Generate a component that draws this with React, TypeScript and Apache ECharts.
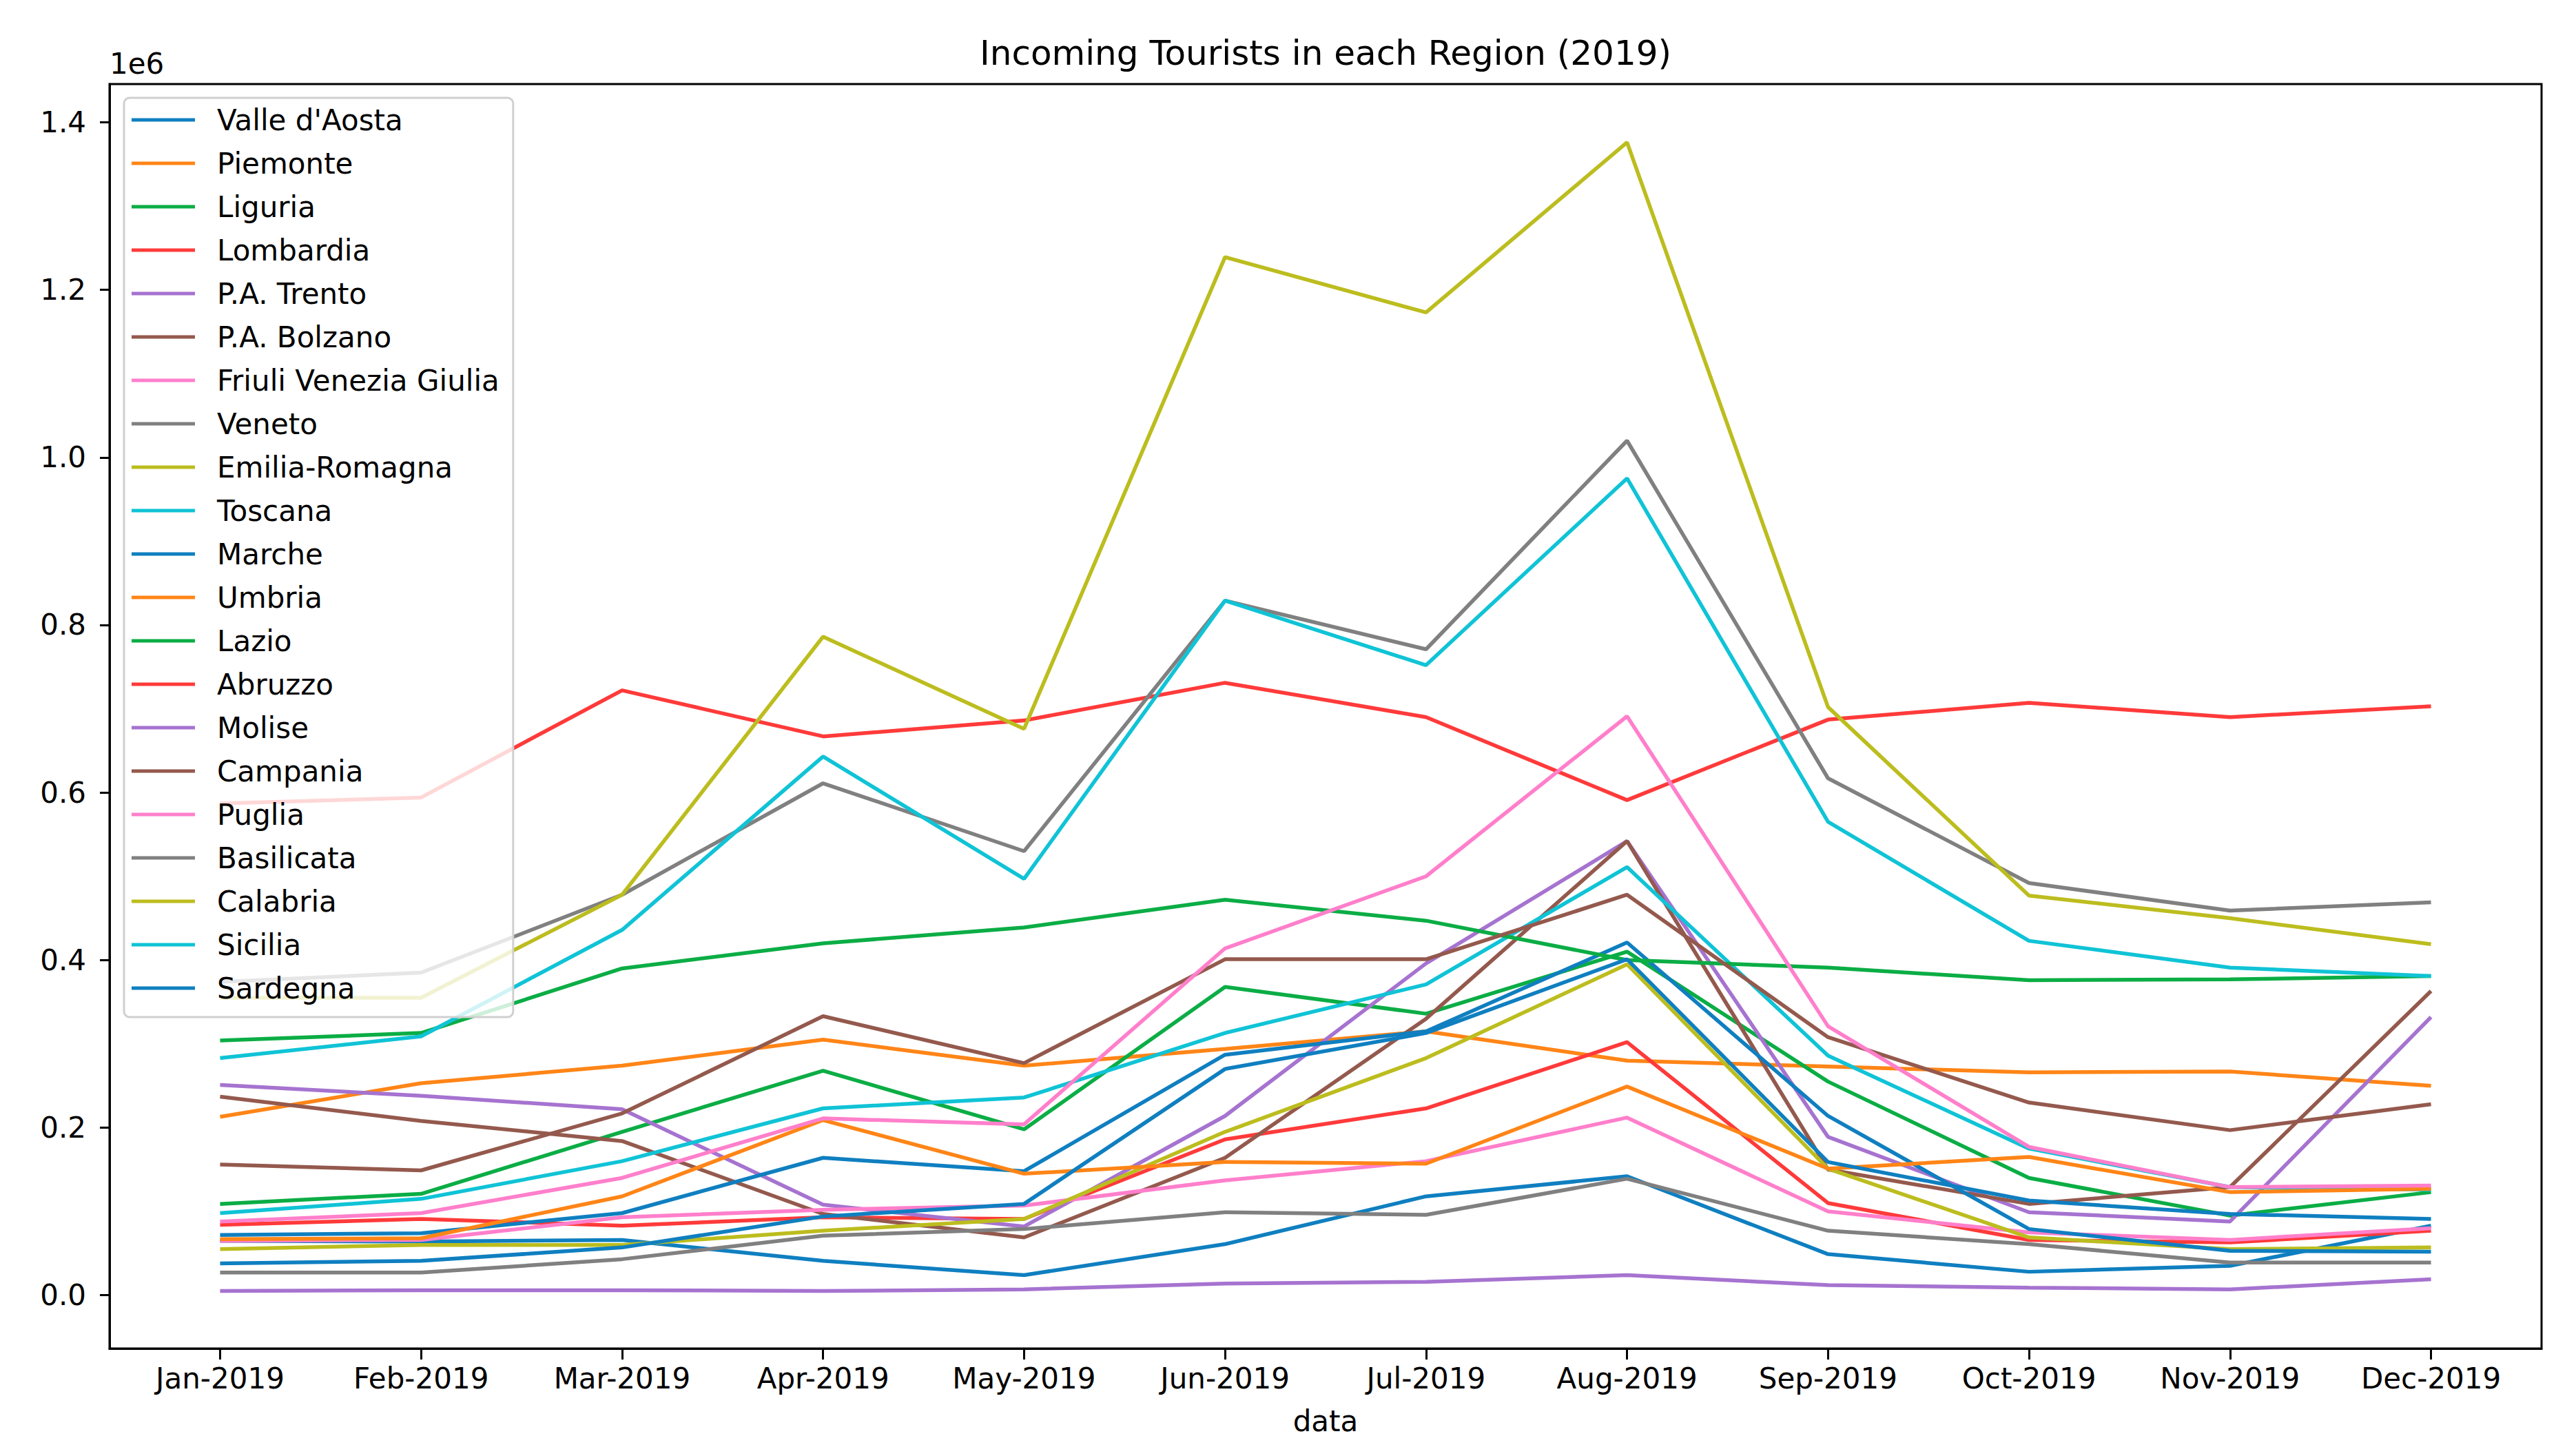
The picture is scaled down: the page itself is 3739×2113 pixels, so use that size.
import React, { useEffect, useRef } from 'react';
import * as echarts from 'echarts';

const months = ['Jan-2019', 'Feb-2019', 'Mar-2019', 'Apr-2019', 'May-2019', 'Jun-2019', 'Jul-2019', 'Aug-2019', 'Sep-2019', 'Oct-2019', 'Nov-2019', 'Dec-2019'];

const regions = ["Valle d'Aosta", 'Piemonte', 'Liguria', 'Lombardia', 'P.A. Trento', 'P.A. Bolzano', 'Friuli Venezia Giulia', 'Veneto', 'Emilia-Romagna', 'Toscana', 'Marche', 'Umbria', 'Lazio', 'Abruzzo', 'Molise', 'Campania', 'Puglia', 'Basilicata', 'Calabria', 'Sicilia', 'Sardegna'];

const valleDAosta = [65000, 64000, 66000, 41000, 24000, 61000, 118000, 142000, 49000, 28000, 35000, 83000];
const piemonte = [213000, 253000, 274000, 305000, 274000, 294000, 315000, 280000, 273000, 266000, 267000, 250000];
const liguria = [109000, 121000, 195000, 268000, 198000, 368000, 336000, 410000, 255000, 140000, 95000, 123000];
const lombardia = [84000, 91000, 83000, 93000, 91000, 186000, 223000, 302000, 110000, 66000, 63000, 77000];
const trento = [251000, 238000, 222000, 108000, 82000, 214000, 396000, 542000, 189000, 99000, 88000, 332000];
const bolzano = [237000, 208000, 184000, 97000, 69000, 164000, 330000, 542000, 150000, 109000, 129000, 363000];
const friuli = [65000, 66000, 93000, 102000, 107000, 137000, 160000, 212000, 100000, 75000, 66000, 80000];
const veneto = [27000, 27000, 43000, 71000, 79000, 99000, 96000, 139000, 77000, 61000, 39000, 39000];
const emiliaRomagna = [55000, 60000, 60000, 77000, 91000, 195000, 283000, 395000, 151000, 69000, 55000, 57000];
const toscana = [98000, 115000, 160000, 223000, 236000, 313000, 371000, 511000, 286000, 175000, 129000, 126000];
const marche = [72000, 74000, 98000, 164000, 148000, 287000, 315000, 421000, 214000, 79000, 53000, 52000];
const umbria = [67000, 68000, 118000, 209000, 145000, 159000, 157000, 249000, 151000, 165000, 123000, 127000];
const lazio = [304000, 313000, 390000, 420000, 439000, 472000, 447000, 400000, 391000, 376000, 377000, 381000];
const abruzzo = [587000, 594000, 722000, 667000, 686000, 731000, 690000, 591000, 687000, 707000, 690000, 703000];
const molise = [5000, 6000, 6000, 5000, 7000, 14000, 16000, 24000, 12000, 9000, 7000, 19000];
const campania = [156000, 149000, 217000, 333000, 277000, 401000, 401000, 478000, 308000, 230000, 197000, 228000];
const puglia = [88000, 98000, 140000, 211000, 204000, 414000, 500000, 691000, 321000, 177000, 129000, 131000];
const basilicata = [374000, 385000, 478000, 611000, 530000, 829000, 771000, 1020000, 617000, 492000, 459000, 469000];
const calabria = [355000, 355000, 478000, 786000, 676000, 1239000, 1173000, 1376000, 702000, 477000, 450000, 419000];
const sicilia = [283000, 309000, 436000, 643000, 497000, 829000, 752000, 975000, 565000, 423000, 391000, 381000];
const sardegna = [38000, 41000, 57000, 94000, 109000, 270000, 313000, 401000, 159000, 113000, 97000, 91000];

const seriesValues = [valleDAosta, piemonte, liguria, lombardia, trento, bolzano, friuli, veneto, emiliaRomagna, toscana, marche, umbria, lazio, abruzzo, molise, campania, puglia, basilicata, calabria, sicilia, sardegna];

const palette = ['#0f7fc0', '#ff8517', '#0bad45', '#ff3a3a', '#a673d0', '#94594d', '#ff7fcb', '#808080', '#bcbd1e', '#10c3d6'];

const yTicks = [0, 200000, 400000, 600000, 800000, 1000000, 1200000, 1400000];
const xTicks = [0, 1, 2, 3, 4, 5, 6, 7, 8, 9, 10, 11];

const FONT = 'DejaVu Sans';

export default function App() {
  const ref = useRef<HTMLDivElement>(null);
  useEffect(() => {
    const chart = echarts.init(ref.current as HTMLDivElement, null, { renderer: 'svg' });
    chart.setOption({
      animation: false,
      backgroundColor: '#ffffff',
      textStyle: { fontFamily: FONT },
      grid: {
        left: 159, top: 122, width: 3530, height: 1835,
        show: true, borderColor: '#000', borderWidth: 3, backgroundColor: 'transparent',
      },
      graphic: [
        {
          type: 'text', x: 1924, y: 77,
          style: { text: 'Incoming Tourists in each Region (2019)', fontSize: 50, fontFamily: FONT, fill: '#000', align: 'center', verticalAlign: 'middle' },
        },
        {
          type: 'text', x: 159, y: 92,
          style: { text: '1e6', fontSize: 42, fontFamily: FONT, fill: '#000', align: 'left', verticalAlign: 'middle' },
        },
      ],
      legend: {
        orient: 'vertical', left: 180, top: 142,
        data: regions,
        icon: 'rect', itemWidth: 92, itemHeight: 5, itemGap: 19,
        textStyle: { fontSize: 42, fontFamily: FONT, color: '#000', lineHeight: 44, padding: [0, 0, 0, 27] },
        backgroundColor: 'rgba(255,255,255,0.8)', borderColor: '#d0d0d0', borderWidth: 3, borderRadius: 8,
        padding: [10, 20, 20, 11],
      },
      xAxis: {
        type: 'value', min: -0.55, max: 11.55,
        name: 'data', nameLocation: 'middle', nameGap: 84,
        nameTextStyle: { fontSize: 42, fontFamily: FONT, color: '#000' },
        axisLine: { show: true, onZero: false, lineStyle: { color: '#000', width: 3 } },
        axisTick: { show: true, customValues: xTicks, length: 16, lineStyle: { color: '#000', width: 3 } },
        axisLabel: {
          customValues: xTicks, fontSize: 42, fontFamily: FONT, color: '#000', margin: 22,
          formatter: (v: number) => months[Math.round(v)] ?? '',
        },
        splitLine: { show: false },
      },
      yAxis: {
        type: 'value', min: -63600, max: 1445600,
        axisLine: { show: true, onZero: false, lineStyle: { color: '#000', width: 3 } },
        axisTick: { show: true, customValues: yTicks, length: 14, lineStyle: { color: '#000', width: 3 } },
        axisLabel: {
          customValues: yTicks, fontSize: 42, fontFamily: FONT, color: '#000', margin: 34,
          formatter: (v: number) => (v / 1e6).toFixed(1),
        },
        splitLine: { show: false },
      },
      series: regions.map((name, i) => {
        const c = palette[i % palette.length];
        return {
          name, type: 'line', color: c,
          showSymbol: false, symbol: 'none',
          lineStyle: { color: c, width: 5.5 },
          itemStyle: { color: c },
          emphasis: { disabled: true },
          data: seriesValues[i].map((v, j) => [xTicks[j], v]),
        };
      }),
    });
    return () => chart.dispose();
  }, []);
  return <div ref={ref} style={{ position: 'fixed', left: 0, top: 0, width: 3739, height: 2113, background: '#fff' }} />;
}
